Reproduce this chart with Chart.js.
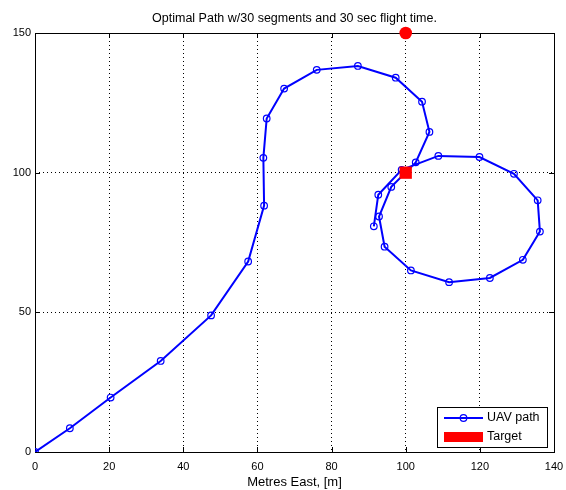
<!DOCTYPE html>
<html>
<head>
<meta charset="utf-8">
<title>Optimal Path</title>
<script src="https://cdn.jsdelivr.net/npm/chart.js@4.4.1/dist/chart.umd.min.js"></script>
<style>
    html, body { margin: 0; padding: 0; background: #fff; }
    #wrap { width: 566px; height: 490px; }
</style>
</head>
<body>
<div id="wrap"><canvas id="pathChart" width="566" height="490"></canvas></div>
<script>
const FONT = "'Liberation Sans', Arial, Helvetica, sans-serif";

// UAV path, metres east / metres north, one point per segment end
const pathEast = [0, 9.4, 20.4, 33.9, 47.5, 57.5, 61.8, 61.6, 62.5, 67.2, 76.0, 87.1, 97.3, 104.4, 106.4, 102.7,
    96.1, 92.8, 94.3, 101.4, 111.7, 122.7, 131.6, 136.2, 135.6, 129.2, 119.9, 108.8, 98.9, 92.6, 91.4];
const pathNorth = [0, 8.5, 19.5, 32.6, 48.9, 68.2, 88.2, 105.3, 119.4, 130.1, 136.8, 138.2, 134.0, 125.4, 114.6, 103.7,
    94.9, 84.3, 73.5, 65.0, 60.8, 62.3, 68.8, 78.9, 90.1, 99.6, 105.6, 106.0, 101.0, 92.1, 80.8];

const targetEast = [100];
const targetNorth = [100];
const waypointEast = [100];
const waypointNorth = [150];

const xTicks = [0, 20, 40, 60, 80, 100, 120, 140];
const yTicks = [0, 50, 100, 150];

const toPoints = (xs, ys) => xs.map((x, i) => ({ x: x, y: ys[i] }));

// box round the axes, with the tick marks pointing inwards
const axesBox = {
    id: 'axesBox',
    beforeDatasetsDraw(chart) {
        const { ctx, chartArea: a, scales: { x, y } } = chart;
        ctx.save();
        ctx.strokeStyle = '#000';
        ctx.lineWidth = 1;
        ctx.beginPath();
        xTicks.forEach((v) => {
            const px = Math.round(x.getPixelForValue(v)) + 0.5;
            ctx.moveTo(px, a.bottom);
            ctx.lineTo(px, a.bottom - 5);
            ctx.moveTo(px, a.top);
            ctx.lineTo(px, a.top + 5);
        });
        yTicks.forEach((v) => {
            const py = Math.round(y.getPixelForValue(v)) + 0.5;
            ctx.moveTo(a.left, py);
            ctx.lineTo(a.left + 5, py);
            ctx.moveTo(a.right, py);
            ctx.lineTo(a.right - 5, py);
        });
        ctx.stroke();
        ctx.strokeRect(a.left + 0.5, a.top + 0.5, a.right - a.left, a.bottom - a.top);

        // title over the axes
        ctx.fillStyle = '#000';
        ctx.font = '12.5px ' + FONT;
        ctx.textAlign = 'center';
        ctx.textBaseline = 'middle';
        ctx.fillText(chart.options.plugins.axesBox.title, (a.left + a.right) / 2, 18.5);
        ctx.restore();
    }
};

// legend box in the lower right corner
const cornerLegend = {
    id: 'cornerLegend',
    afterDatasetsDraw(chart) {
        const { ctx, chartArea: a } = chart;
        const sets = chart.data.datasets.filter((d) => d.label).sort((p, q) => q.order - p.order);
        const w = 110;
        const h = 40;
        const x0 = a.right - 7 - w;
        const y0 = a.bottom - 5 - h;
        ctx.save();
        ctx.fillStyle = '#fff';
        ctx.fillRect(x0, y0, w, h);
        ctx.strokeStyle = '#000';
        ctx.lineWidth = 1;
        ctx.strokeRect(x0 + 0.5, y0 + 0.5, w, h);

        ctx.font = '12.5px ' + FONT;
        ctx.textBaseline = 'middle';
        ctx.textAlign = 'left';
        sets.forEach((d, i) => {
            const cy = y0 + 11 + i * 19;
            if (d.showLine) {
                ctx.strokeStyle = d.borderColor;
                ctx.lineWidth = 2;
                ctx.beginPath();
                ctx.moveTo(x0 + 7, cy);
                ctx.lineTo(x0 + 46, cy);
                ctx.stroke();
                ctx.lineWidth = 1.2;
                ctx.beginPath();
                ctx.arc(x0 + 26.5, cy, 3.3, 0, Math.PI * 2);
                ctx.stroke();
            } else {
                ctx.fillStyle = d.backgroundColor;
                ctx.fillRect(x0 + 7, cy - 5, 39, 10);
            }
            ctx.fillStyle = '#000';
            ctx.fillText(d.label, x0 + 50, cy);
        });
        ctx.restore();
    }
};

const createChart = (chartElement) => {
    const ctx = document.querySelector(chartElement).getContext('2d');

    return new Chart(ctx, {
        type: 'scatter',
        data: {
            datasets: [
                {
                    label: 'Target',
                    data: toPoints(targetEast, targetNorth),
                    pointStyle: 'rect',
                    pointRadius: 8.7,
                    backgroundColor: '#ff0000',
                    borderWidth: 0,
                    order: 0
                },
                {
                    data: toPoints(waypointEast, waypointNorth),
                    pointStyle: 'circle',
                    pointRadius: 6.3,
                    backgroundColor: '#ff0000',
                    borderWidth: 0,
                    clip: false,
                    order: 0
                },
                {
                    label: 'UAV path',
                    data: toPoints(pathEast, pathNorth),
                    showLine: true,
                    borderColor: '#0000ff',
                    borderWidth: 2,
                    tension: 0,
                    pointStyle: 'circle',
                    pointRadius: 3.3,
                    pointBorderWidth: 1.2,
                    pointBorderColor: '#0000ff',
                    pointBackgroundColor: 'rgba(0,0,0,0)',
                    order: 1
                }
            ]
        },
        options: {
            responsive: false,
            animation: false,
            layout: { padding: { top: 33, right: 12, bottom: 0, left: 0 } },
            plugins: {
                legend: { display: false },
                tooltip: { enabled: false },
                axesBox: { title: 'Optimal Path w/30 segments and 30 sec flight time.' }
            },
            scales: {
                x: {
                    type: 'linear',
                    min: 0,
                    max: 140,
                    afterBuildTicks: (s) => { s.ticks = xTicks.map((v) => ({ value: v })); },
                    afterFit: (s) => {
                        s.height = 38;
                        s.paddingLeft = 0;
                        s.paddingRight = 0;
                    },
                    grid: { color: '#000', lineWidth: 1, drawTicks: false },
                    border: { display: false, dash: [1, 3] },
                    ticks: { color: '#000', padding: 8, font: { family: FONT, size: 11 } },
                    title: {
                        display: true,
                        text: 'Metres East, [m]',
                        color: '#000',
                        padding: { top: 0, bottom: 0 },
                        font: { family: FONT, size: 13 }
                    }
                },
                y: {
                    type: 'linear',
                    min: 0,
                    max: 150,
                    afterBuildTicks: (s) => { s.ticks = yTicks.map((v) => ({ value: v })); },
                    afterFit: (s) => { s.width = 35; },
                    grid: { color: '#000', lineWidth: 1, drawTicks: false },
                    border: { display: false, dash: [1, 3] },
                    ticks: { color: '#000', padding: 4, font: { family: FONT, size: 11 } }
                }
            }
        },
        plugins: [axesBox, cornerLegend]
    });
};

createChart('#pathChart');
</script>
</body>
</html>
